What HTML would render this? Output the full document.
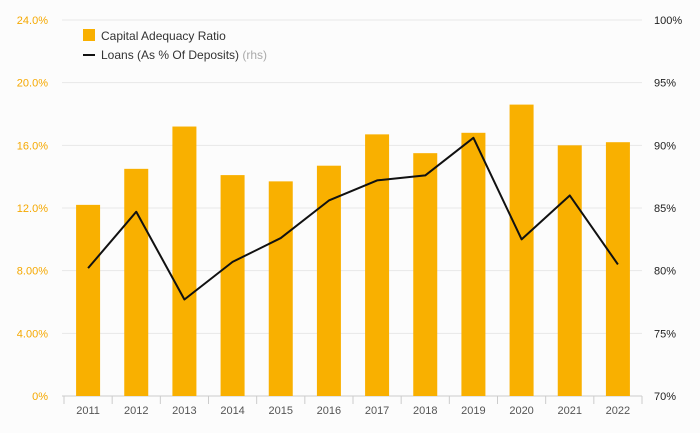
<!DOCTYPE html>
<html><head><meta charset="utf-8"><style>
body{margin:0;background:#fff;font-family:"Liberation Sans",sans-serif}
svg text{font-family:"Liberation Sans",sans-serif}
</style></head><body>
<svg id="c" width="700" height="433" xmlns="http://www.w3.org/2000/svg">
<rect width="700" height="433" fill="#fcfcfc"/>
</svg>
<script>
const categories=["2011","2012","2013","2014","2015","2016","2017","2018","2019","2020","2021","2022"];
const carValues=[12.2,14.5,17.2,14.1,13.7,14.7,16.7,15.5,16.8,18.6,16.0,16.2];
const loanValues=[80.2,84.7,77.7,80.7,82.6,85.6,87.2,87.6,90.6,82.5,86.0,80.5];
const leftTicks=[0,4,8,12,16,20,24];
const leftTickLabels=["0%","4.00%","8.00%","12.0%","16.0%","20.0%","24.0%"];
const rightTicks=[70,75,80,85,90,95,100];
const rightTickLabels=["70%","75%","80%","85%","90%","95%","100%"];

const NS="http://www.w3.org/2000/svg";
const svg=document.getElementById('c');
const X0=64,X1=642,Y0=396,Y1=20;
const bw=(X1-X0)/categories.length;
const yL=v=>Y0-(v-0)/(24-0)*(Y0-Y1);
const yR=v=>Y0-(v-70)/(100-70)*(Y0-Y1);
const xC=i=>X0+bw*(i+0.5);
function mk(tag,attrs,txt){const e=document.createElementNS(NS,tag);for(const k in attrs)e.setAttribute(k,attrs[k]);if(txt!=null)e.textContent=txt;svg.appendChild(e);return e;}

leftTicks.forEach((t,i)=>{
  const g=mk('line',{x1:62,x2:X1,y1:yL(t),y2:yL(t),stroke:i===0?'#ccc':'#e8e8e8','stroke-width':1});
  
  
  const l=mk('text',{x:48,y:yL(t)+4,'text-anchor':'end','font-size':11,fill:'#f5a800'},leftTickLabels[i]);
  
  
});
rightTicks.forEach((t,i)=>{
  const l=mk('text',{x:654,y:yR(t)+4,'text-anchor':'start','font-size':11,fill:'#222'},rightTickLabels[i]);
  
  
});
for(let i=0;i<=categories.length;i++){
  const x=X0+bw*i;
  const t=mk('line',{x1:x,x2:x,y1:Y0,y2:Y0+8,stroke:'#ccc'});
  
  
}
categories.forEach((c,i)=>{
  const b=mk('rect',{x:xC(i)-12,y:yL(carValues[i]),width:24,height:Y0-yL(carValues[i]),fill:'#f9b000'});
  
  
  const l=mk('text',{x:xC(i),y:414,'text-anchor':'middle','font-size':11,fill:'#555'},c);
  
  
});
const pl=mk('polyline',{points:loanValues.map((v,i)=>xC(i)+','+yR(v)).join(' '),fill:'none',stroke:'#111','stroke-width':2,'stroke-linejoin':'round'});



const lr=mk('rect',{x:83,y:29,width:12,height:12,fill:'#f9b000'});


const lt=mk('text',{x:101,y:40,'font-size':12,fill:'#333'},'Capital Adequacy Ratio');


const ll=mk('line',{x1:83,x2:95,y1:55,y2:55,stroke:'#111','stroke-width':2});


const lt2=mk('text',{x:101,y:59,'font-size':12,fill:'#333'},'Loans (As % Of Deposits) ');


const ts=document.createElementNS(NS,'tspan');ts.setAttribute('fill','#aaa');ts.textContent='(rhs)';lt2.appendChild(ts);
</script>
</body></html>
